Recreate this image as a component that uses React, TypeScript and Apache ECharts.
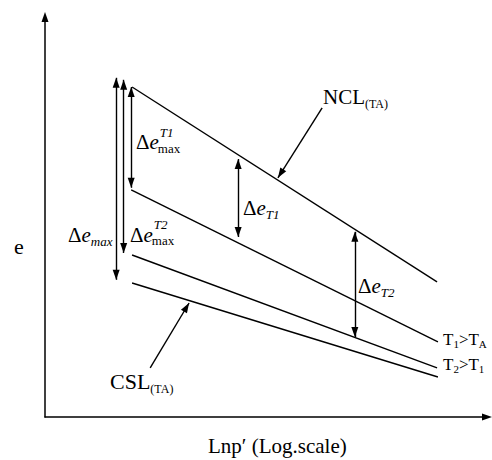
import React, { useEffect, useRef } from "react";
import * as echarts from "echarts";

// ---- Data (abstract units: x = ln p', y = e) ----
const X_MAX = 10;
const Y_MAX = 10;

const nclLine = [[1.97, 8.25], [8.87, 3.38]];
const t1Line = [[1.95, 5.68], [8.89, 1.88]];
const t2Line = [[1.97, 4.05], [8.87, 1.23]];
const cslLine = [[1.97, 3.35], [8.89, 1.0]];

// vertical double-headed arrows: [x, yTop, yBottom]
const deMaxArrow = [1.61, 8.48, 3.43];
const deMaxT2Arrow = [1.78, 8.43, 4.1];
const deMaxT1Arrow = [1.95, 8.25, 5.73];
const deT1Arrow = [4.37, 6.45, 4.5];
const deT2Arrow = [7.01, 4.63, 2.0];

// pointer arrows: [xFrom, yFrom, xTo, yTo]
const nclPointer = [6.27, 7.73, 5.27, 5.98];
const cslPointer = [2.38, 1.23, 3.26, 2.85];

const FONT = '"Liberation Serif", "Times New Roman", Times, serif';

let measureCtx: CanvasRenderingContext2D | null = null;
function measure(text: string, size: number, italic: boolean) {
  if (!measureCtx) {
    const c = document.createElement("canvas");
    measureCtx = c.getContext("2d");
  }
  if (!measureCtx) return text.length * size * 0.5;
  measureCtx.font = `${italic ? "italic " : ""}${size}px ${FONT}`;
  return measureCtx.measureText(text).width;
}

type Part = { t: string; size: number; italic?: boolean; dy?: number; dx?: number; stack?: boolean };

function label(x0: number, baseline: number, parts: Part[]) {
  const els: any[] = [];
  let cursor = x0;
  let lastStart = x0;
  for (const p of parts) {
    const w = measure(p.t, p.size, !!p.italic);
    let start: number;
    if (p.stack) {
      start = lastStart + (p.dx || 0);
      cursor = Math.max(cursor, start + w);
    } else {
      start = cursor + (p.dx || 0);
      lastStart = start;
      cursor = start + w;
    }
    els.push({
      type: "text",
      x: start,
      y: baseline + (p.dy || 0) - 0.3375 * p.size,
      silent: true,
      style: {
        text: p.t,
        fill: "#000",
        fontSize: p.size,
        fontFamily: FONT,
        fontStyle: p.italic ? "italic" : "normal",
        align: "left",
        verticalAlign: "middle",
      },
    });
  }
  return els;
}

function buildOption() {
  const lineSeries = (name: string, data: number[][]) => ({
    name,
    type: "line",
    data,
    symbol: "none",
    showSymbol: false,
    silent: true,
    lineStyle: { color: "#000", width: 1.4 },
  });

  const vArrow = (a: number[]) => [{ coord: [a[0], a[1]] }, { coord: [a[0], a[2]] }];
  const pArrow = (a: number[]) => [
    { coord: [a[0], a[1]], symbol: "none" },
    { coord: [a[2], a[3]], symbol: "triangle" },
  ];

  const axisCommon = {
    type: "value",
    axisLine: {
      show: true,
      onZero: false,
      symbol: ["none", "triangle"],
      symbolSize: [7, 10],
      lineStyle: { color: "#000", width: 1.5 },
    },
    axisTick: { show: false },
    axisLabel: { show: false },
    splitLine: { show: false },
  };

  const graphics = [
    ...label(14, 254, [{ t: "e", size: 22 }]),
    ...label(68, 242, [
      { t: "Δ", size: 21 },
      { t: "e", size: 21, italic: true },
      { t: "max", size: 13, italic: true, dy: 4 },
    ]),
    ...label(136, 149, [
      { t: "Δ", size: 21 },
      { t: "e", size: 21, italic: true },
      { t: "T1", size: 13, italic: true, dy: -12, dx: 1 },
      { t: "max", size: 13, stack: true, dy: 4, dx: -2 },
    ]),
    ...label(130, 242, [
      { t: "Δ", size: 21 },
      { t: "e", size: 21, italic: true },
      { t: "T2", size: 13, italic: true, dy: -13, dx: 1 },
      { t: "max", size: 13, stack: true, dy: 3, dx: -2 },
    ]),
    ...label(243, 215, [
      { t: "Δ", size: 21 },
      { t: "e", size: 21, italic: true },
      { t: "T1", size: 13, italic: true, dy: 4 },
    ]),
    ...label(358, 293, [
      { t: "Δ", size: 21 },
      { t: "e", size: 21, italic: true },
      { t: "T2", size: 13, italic: true, dy: 4 },
    ]),
    ...label(323, 104, [
      { t: "NCL", size: 21 },
      { t: "(TA)", size: 12, dy: 4 },
    ]),
    ...label(443, 345, [
      { t: "T", size: 17 },
      { t: "1", size: 11, dy: 3 },
      { t: ">T", size: 17 },
      { t: "A", size: 11, dy: 3 },
    ]),
    ...label(443, 370, [
      { t: "T", size: 17 },
      { t: "2", size: 11, dy: 3 },
      { t: ">T", size: 17 },
      { t: "1", size: 11, dy: 3 },
    ]),
    ...label(110, 389, [
      { t: "CSL", size: 22 },
      { t: "(TA)", size: 12, dy: 4 },
    ]),
    ...label(208, 453, [{ t: "Lnp\u2032 (Log.scale)", size: 21 }]),
  ];

  return {
    animation: false,
    backgroundColor: "#fff",
    grid: { left: 45, right: 5, top: 17, bottom: 43, containLabel: false, outerBoundsMode: "none" },
    xAxis: { ...axisCommon, min: 0, max: X_MAX },
    yAxis: { ...axisCommon, min: 0, max: Y_MAX },
    series: [
      lineSeries("NCL", nclLine),
      lineSeries("T1", t1Line),
      lineSeries("T2", t2Line),
      lineSeries("CSL", cslLine),
      {
        name: "arrows",
        type: "line",
        data: [],
        silent: true,
        markLine: {
          silent: true,
          animation: false,
          symbol: ["triangle", "triangle"],
          symbolSize: [7, 10],
          symbolOffset: [[0, 5], [0, 5]],
          label: { show: false },
          emphasis: { disabled: true },
          lineStyle: { color: "#000", width: 1.4, type: "solid" },
          data: [
            vArrow(deMaxArrow),
            vArrow(deMaxT2Arrow),
            vArrow(deMaxT1Arrow),
            vArrow(deT1Arrow),
            vArrow(deT2Arrow),
            pArrow(nclPointer),
            pArrow(cslPointer),
          ],
        },
      },
    ],
    graphic: graphics,
  };
}

export default function App() {
  const ref = useRef<HTMLDivElement>(null);
  useEffect(() => {
    if (!ref.current) return;
    const chart = echarts.init(ref.current, null, { renderer: "svg" });
    chart.setOption(buildOption() as any);
    return () => chart.dispose();
  }, []);
  return (
    <div
      ref={ref}
      style={{ position: "absolute", left: 0, top: 0, width: 492, height: 460, background: "#fff" }}
    />
  );
}
